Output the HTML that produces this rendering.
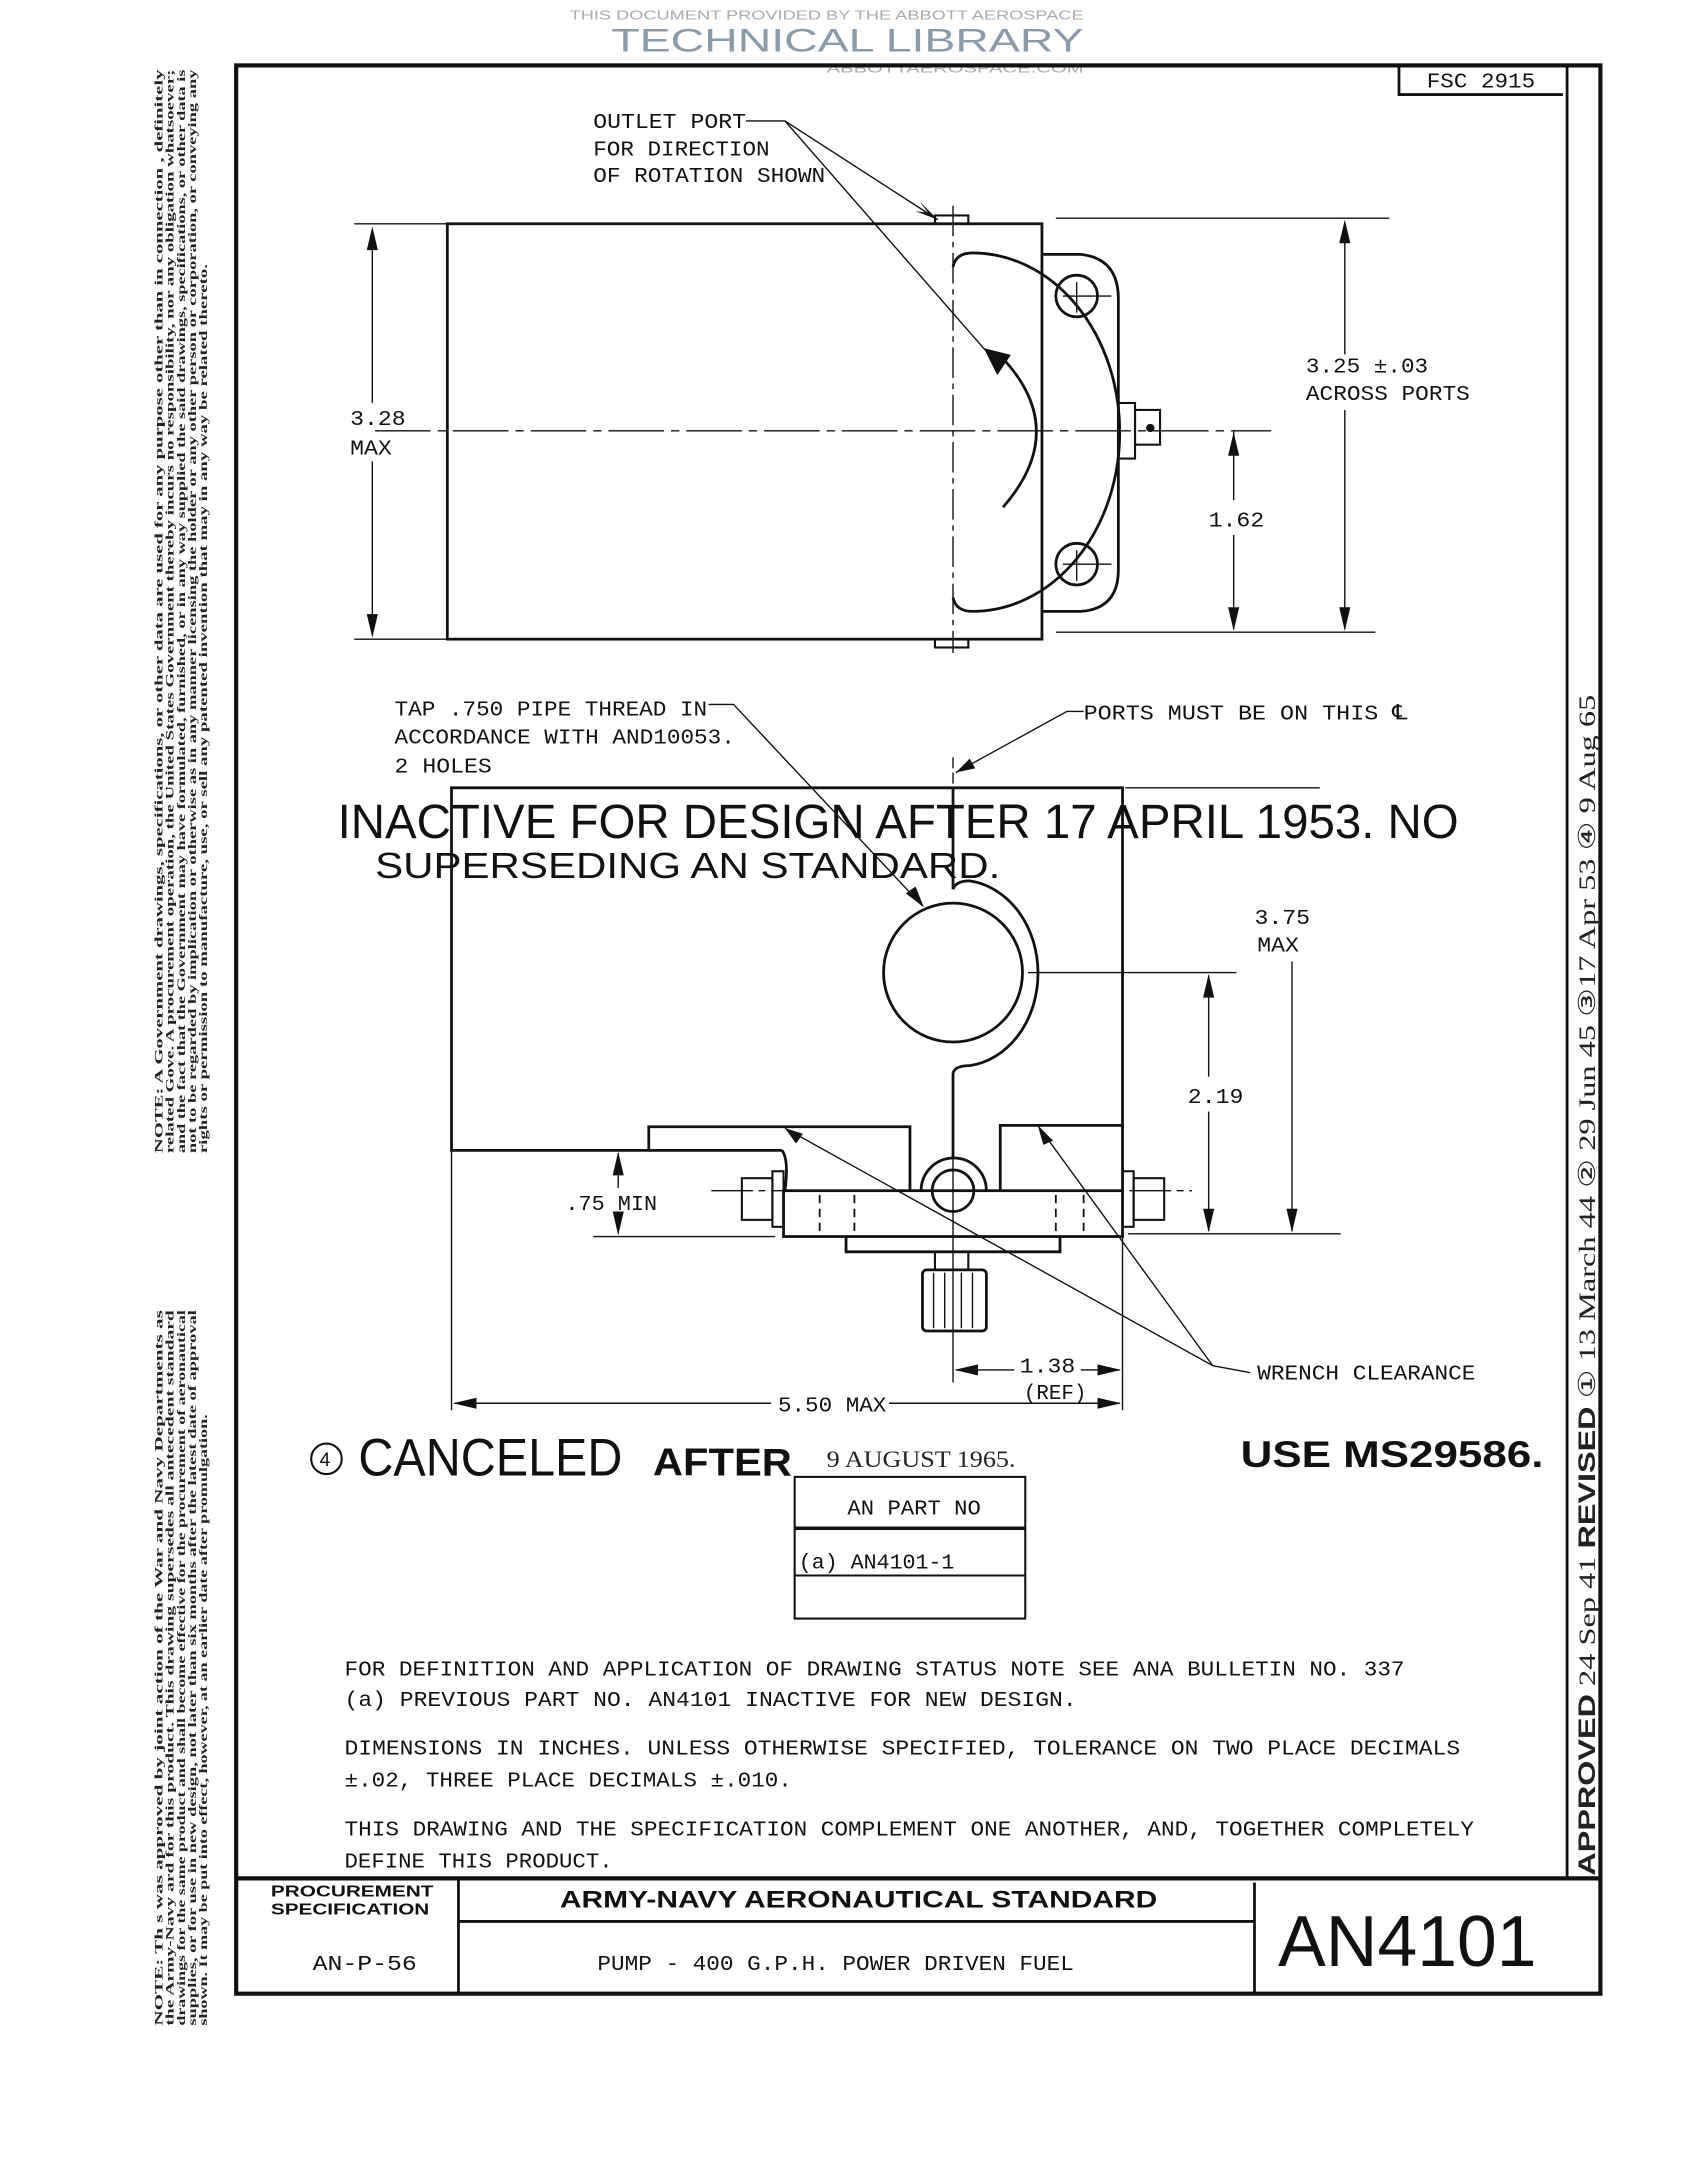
<!DOCTYPE html>
<html><head><meta charset="utf-8"><style>
html,body{margin:0;padding:0;background:#fff;}
svg{display:block;}
.m{font-family:"Liberation Mono",monospace;fill:#111;}
.s{font-family:"Liberation Sans",sans-serif;fill:#111;}
.r{font-family:"Liberation Serif",serif;fill:#222;}
</style></head><body>
<svg width="1681" height="2173" viewBox="0 0 1210 1564" xmlns="http://www.w3.org/2000/svg">
<rect width="1210" height="1564" fill="#fff"/>
<!-- watermark -->
<text x="410" y="14" class="s" font-size="9" style="fill:#aaa" textLength="370" lengthAdjust="spacingAndGlyphs">THIS DOCUMENT PROVIDED BY THE ABBOTT AEROSPACE</text>
<text x="440" y="37" class="s" font-size="23" style="fill:#8a9aa8" textLength="340" lengthAdjust="spacingAndGlyphs">TECHNICAL LIBRARY</text>
<text x="595" y="52" class="s" font-size="9" style="fill:#aaa" textLength="185" lengthAdjust="spacingAndGlyphs">ABBOTTAEROSPACE.COM</text>

<g fill="none" stroke="#111" stroke-width="2">
<!-- border -->
<rect x="170" y="47" width="982" height="1388" stroke-width="3"/>
<line x1="1128" y1="47" x2="1128" y2="1352"/>
<line x1="170" y1="1352" x2="1152" y2="1352" stroke-width="3"/>
<polyline points="1007,47 1007,68 1125,68"/>
<line x1="330" y1="1352" x2="330" y2="1435"/>
<line x1="903" y1="1355" x2="903" y2="1435"/>
<line x1="330" y1="1383" x2="903" y2="1383"/>

<!-- TOP VIEW -->
<rect x="322" y="161" width="428" height="299"/>
<rect x="673" y="155" width="24" height="6" stroke-width="1.5"/>
<rect x="673" y="460" width="24" height="6" stroke-width="1.5"/>
<path d="M686,192 Q688,182 700,182 A106,129 0 0 1 700,440 Q688,440 686,430"/>
<path d="M750,183 L778,183 Q805,186 805,215 L805,410 Q805,438 778,440 L750,440"/>
<circle cx="775" cy="213" r="15"/>
<circle cx="775" cy="406" r="15"/>
<g stroke-width="1"><line x1="765" y1="213" x2="800" y2="213"/><line x1="775" y1="203" x2="775" y2="225"/>
<line x1="765" y1="406" x2="800" y2="406"/><line x1="775" y1="396" x2="775" y2="418"/></g>
<rect x="805" y="290" width="12" height="40" stroke-width="1.5"/>
<rect x="817" y="295" width="18" height="25" stroke-width="1.5"/>
<circle cx="828" cy="308" r="2" fill="#111"/>
<path d="M722,365 Q770,310 722,258" stroke-width="2"/>
<polygon points="710,252 726,256 718,268" fill="#111"/>
<g stroke-width="1">
<line x1="686" y1="148" x2="686" y2="470" stroke-dasharray="22,4,4,4"/>
<line x1="270" y1="310" x2="915" y2="310" stroke-dasharray="40,5,6,5"/>
<line x1="255" y1="161" x2="322" y2="161"/><line x1="255" y1="460" x2="322" y2="460"/>
<line x1="268" y1="165" x2="268" y2="290"/><line x1="268" y1="332" x2="268" y2="457"/>
<line x1="760" y1="157" x2="1000" y2="157"/><line x1="760" y1="455" x2="990" y2="455"/>
<line x1="968" y1="160" x2="968" y2="255"/><line x1="968" y1="295" x2="968" y2="453"/>
<line x1="888" y1="310" x2="888" y2="360"/><line x1="888" y1="385" x2="888" y2="453"/>
<polyline points="537,87 565,87 675,158"/>
<line x1="565" y1="87" x2="718" y2="262"/>
</g>
<g fill="#111" stroke="none">
<polygon points="268,163 264,180 272,180"/><polygon points="268,459 264,442 272,442"/>
<polygon points="968,158 964,175 972,175"/><polygon points="968,454 964,437 972,437"/>
<polygon points="888,311 884,328 892,328"/><polygon points="888,454 884,437 892,437"/>
<polygon points="675,158 662,145 668,153 659,152"/>
</g>

<!-- BOTTOM VIEW -->
<polyline points="686,567 808,567 808,857"/>
<polyline points="686,567 325,567 325,828 467,828 467,811 655,811 655,857"/>
<line x1="467" y1="828" x2="563" y2="828"/>
<path d="M563,828 Q568,835 565,857"/>
<circle cx="686" cy="700" r="50"/>
<path d="M686,640 Q688,634 698,634 A56,67 0 0 1 698,767 Q688,767 686,772"/>
<line x1="686" y1="567" x2="686" y2="640"/>
<line x1="686" y1="772" x2="686" y2="834"/>
<polyline points="720,857 720,810 807,810"/>
<rect x="564" y="857" width="244" height="33"/>
<path d="M663,857 A23,23 0 0 1 710,857"/>
<circle cx="686" cy="857" r="15"/>
<polyline points="609,890 609,901 763,901 763,890"/>
<rect x="673" y="901" width="24" height="13" stroke-width="1.5"/>
<rect x="664" y="914" width="46" height="44" rx="3"/>
<g stroke-width="1">
<line x1="672" y1="916" x2="672" y2="956"/><line x1="680" y1="916" x2="680" y2="956"/><line x1="692" y1="916" x2="692" y2="956"/><line x1="700" y1="916" x2="700" y2="956"/>
</g>
<rect x="534" y="848" width="22" height="30" stroke-width="1.5"/>
<rect x="556" y="843" width="8" height="40" stroke-width="1.5"/>
<rect x="808" y="843" width="8" height="40" stroke-width="1.5"/>
<rect x="816" y="848" width="22" height="30" stroke-width="1.5"/>
<g stroke-width="1.3" stroke-dasharray="6,4">
<line x1="590" y1="860" x2="590" y2="890"/><line x1="615" y1="860" x2="615" y2="890"/>
<line x1="760" y1="860" x2="760" y2="890"/><line x1="780" y1="860" x2="780" y2="890"/>
</g>
<g stroke-width="1">
<line x1="512" y1="857" x2="858" y2="857" stroke-dasharray="30,4,5,4"/>
<line x1="686" y1="545" x2="686" y2="567" stroke-dasharray="8,3"/>
<line x1="686" y1="834" x2="686" y2="995"/>
<line x1="808" y1="890" x2="808" y2="1015"/>
<line x1="325" y1="828" x2="325" y2="1015"/>
<line x1="740" y1="700" x2="890" y2="700"/>
<line x1="810" y1="567" x2="950" y2="567"/>
<line x1="812" y1="888" x2="965" y2="888"/>
<line x1="427" y1="890" x2="558" y2="890"/>
<line x1="445" y1="830" x2="445" y2="855"/><line x1="445" y1="873" x2="445" y2="888"/>
<line x1="870" y1="702" x2="870" y2="775"/><line x1="870" y1="800" x2="870" y2="886"/>
<line x1="930" y1="692" x2="930" y2="886"/>
<line x1="327" y1="1010" x2="555" y2="1010"/><line x1="640" y1="1010" x2="806" y2="1010"/>
<line x1="688" y1="986" x2="730" y2="986"/><line x1="778" y1="986" x2="806" y2="986"/>
<polyline points="900,988 873,983 565,812"/>
<line x1="873" y1="983" x2="747" y2="810"/>
<polyline points="510,507 528,507 664,652"/>
<polyline points="780,512 768,512 688,556"/>
</g>
<g fill="#111" stroke="none">
<polygon points="445,829 441,846 449,846"/><polygon points="445,889 441,872 449,872"/>
<polygon points="870,701 866,718 874,718"/><polygon points="870,887 866,870 874,870"/>
<polygon points="930,887 926,870 934,870"/>
<polygon points="326,1010 343,1006 343,1014"/><polygon points="807,1010 790,1006 790,1014"/>
<polygon points="687,986 704,982 704,990"/><polygon points="807,986 790,982 790,990"/>
<polygon points="565,812 578,816 573,823"/><polygon points="747,810 758,821 751,824"/>
<polygon points="665,653 652,643 659,638"/><polygon points="688,556 698,546 702,553"/>
</g>

<rect x="572" y="1063" width="166" height="102" stroke-width="1.5"/>
<line x1="572" y1="1100" x2="738" y2="1100" stroke-width="2.5"/>
<line x1="572" y1="1134" x2="738" y2="1134" stroke-width="1.5"/>
<circle cx="235" cy="1050" r="11" stroke-width="1.5"/>
</g>

<text x="1027" y="63" class="m" font-size="15" textLength="78" lengthAdjust="spacingAndGlyphs">FSC 2915</text>
<g class="m" font-size="15">
<text x="427" y="92" textLength="110" lengthAdjust="spacingAndGlyphs">OUTLET PORT</text>
<text x="427" y="112" textLength="127" lengthAdjust="spacingAndGlyphs">FOR DIRECTION</text>
<text x="427" y="131" textLength="167" lengthAdjust="spacingAndGlyphs">OF ROTATION SHOWN</text>
<text x="252" y="306" textLength="40" lengthAdjust="spacingAndGlyphs">3.28</text>
<text x="252" y="327" textLength="30" lengthAdjust="spacingAndGlyphs">MAX</text>
<text x="940" y="268" textLength="88" lengthAdjust="spacingAndGlyphs">3.25 ±.03</text>
<text x="940" y="288" textLength="118" lengthAdjust="spacingAndGlyphs">ACROSS PORTS</text>
<text x="870" y="379" textLength="40" lengthAdjust="spacingAndGlyphs">1.62</text>
<text x="284" y="515" textLength="225" lengthAdjust="spacingAndGlyphs">TAP .750 PIPE THREAD IN</text>
<text x="284" y="535" textLength="245" lengthAdjust="spacingAndGlyphs">ACCORDANCE WITH AND10053.</text>
<text x="284" y="556" textLength="70" lengthAdjust="spacingAndGlyphs">2 HOLES</text>
<text x="780" y="518" textLength="233" lengthAdjust="spacingAndGlyphs">PORTS MUST BE ON THIS ℄</text>
<text x="903" y="665" textLength="40" lengthAdjust="spacingAndGlyphs">3.75</text>
<text x="905" y="685" textLength="30" lengthAdjust="spacingAndGlyphs">MAX</text>
<text x="855" y="794" textLength="40" lengthAdjust="spacingAndGlyphs">2.19</text>
<text x="407" y="871" textLength="66" lengthAdjust="spacingAndGlyphs">.75 MIN</text>
<text x="560" y="1016" textLength="78" lengthAdjust="spacingAndGlyphs">5.50 MAX</text>
<text x="734" y="988" textLength="40" lengthAdjust="spacingAndGlyphs">1.38</text>
<text x="737" y="1007" textLength="45" lengthAdjust="spacingAndGlyphs">(REF)</text>
<text x="905" y="993" textLength="157" lengthAdjust="spacingAndGlyphs">WRENCH CLEARANCE</text>
<text x="610" y="1090" textLength="96" lengthAdjust="spacingAndGlyphs">AN PART NO</text>
<text x="575" y="1129" textLength="112" lengthAdjust="spacingAndGlyphs">(a) AN4101-1</text>
<text x="248" y="1206" textLength="763" lengthAdjust="spacingAndGlyphs">FOR DEFINITION AND APPLICATION OF DRAWING STATUS NOTE SEE ANA BULLETIN NO. 337</text>
<text x="248" y="1228" textLength="527" lengthAdjust="spacingAndGlyphs">(a)  PREVIOUS PART NO. AN4101 INACTIVE FOR NEW DESIGN.</text>
<text x="248" y="1263" textLength="803" lengthAdjust="spacingAndGlyphs">DIMENSIONS IN INCHES.  UNLESS OTHERWISE SPECIFIED, TOLERANCE ON TWO PLACE DECIMALS</text>
<text x="248" y="1286" textLength="322" lengthAdjust="spacingAndGlyphs">±.02, THREE PLACE DECIMALS ±.010.</text>
<text x="248" y="1321" textLength="813" lengthAdjust="spacingAndGlyphs">THIS DRAWING AND THE SPECIFICATION COMPLEMENT ONE ANOTHER, AND, TOGETHER COMPLETELY</text>
<text x="248" y="1344" textLength="193" lengthAdjust="spacingAndGlyphs">DEFINE THIS PRODUCT.</text>
<text x="225" y="1418" textLength="75" lengthAdjust="spacingAndGlyphs">AN-P-56</text>
<text x="430" y="1418" textLength="343" lengthAdjust="spacingAndGlyphs">PUMP - 400 G.P.H. POWER DRIVEN FUEL</text>
</g>
<text x="243" y="603" class="s" font-size="35" textLength="807" lengthAdjust="spacingAndGlyphs">INACTIVE  FOR  DESIGN  AFTER 17 APRIL  1953.   NO</text>
<text x="270" y="632" class="s" font-size="26" textLength="450" lengthAdjust="spacingAndGlyphs">SUPERSEDING   AN   STANDARD.</text>
<text x="230" y="1055" class="s" font-size="14">4</text>
<text x="258" y="1062" class="s" font-size="38" textLength="190" lengthAdjust="spacingAndGlyphs">CANCELED</text>
<text x="470" y="1062" class="s" font-size="28" font-weight="bold" textLength="100" lengthAdjust="spacingAndGlyphs">AFTER</text>
<text x="595" y="1056" class="r" font-size="17" textLength="136" lengthAdjust="spacingAndGlyphs">9 AUGUST 1965.</text>
<text x="893" y="1056" class="s" font-size="27" font-weight="bold" textLength="218" lengthAdjust="spacingAndGlyphs">USE MS29586.</text>
<text x="195" y="1365" class="s" font-size="11" font-weight="bold" textLength="117" lengthAdjust="spacingAndGlyphs">PROCUREMENT</text>
<text x="195" y="1378" class="s" font-size="11" font-weight="bold" textLength="114" lengthAdjust="spacingAndGlyphs">SPECIFICATION</text>
<text x="403" y="1373" class="s" font-size="17" font-weight="bold" textLength="430" lengthAdjust="spacingAndGlyphs">ARMY-NAVY AERONAUTICAL STANDARD</text>
<text x="920" y="1415" class="s" font-size="52" textLength="186" lengthAdjust="spacingAndGlyphs">AN4101</text>

<text transform="translate(1148,1350) rotate(-90)" class="r" font-size="17" textLength="850" lengthAdjust="spacingAndGlyphs"><tspan font-family="Liberation Sans" font-weight="bold">APPROVED</tspan>   24 Sep 41   <tspan font-family="Liberation Sans" font-weight="bold">REVISED</tspan> ① 13 March 44 ② 29 Jun 45 ③17 Apr 53 ④ 9 Aug 65</text>

<g class="r" font-size="8.5" font-weight="bold">
<text transform="translate(117,830) rotate(-90)" textLength="780" lengthAdjust="spacingAndGlyphs">NOTE:        A Government drawings, specifications, or other data are used for any purpose other than in connection        , definitely</text>
<text transform="translate(125,830) rotate(-90)" textLength="780" lengthAdjust="spacingAndGlyphs">related Gove.     A procurement operation, the United States Government thereby incurs no responsibility, nor any obligation whatsoever;</text>
<text transform="translate(133,830) rotate(-90)" textLength="780" lengthAdjust="spacingAndGlyphs">and the fact that the Government may have formulated, furnished, or in any way supplied the said drawings, specifications, or other data is</text>
<text transform="translate(141,830) rotate(-90)" textLength="780" lengthAdjust="spacingAndGlyphs">not to be regarded by implication or otherwise as in any manner licensing the holder or any other person or corporation, or conveying any</text>
<text transform="translate(149,830) rotate(-90)" textLength="640" lengthAdjust="spacingAndGlyphs">rights or permission to manufacture, use, or sell any patented invention that may in any way be related thereto.</text>
<text transform="translate(117,1458) rotate(-90)" textLength="515" lengthAdjust="spacingAndGlyphs">NOTE: Th          s was approved by joint action of the War and Navy Departments as</text>
<text transform="translate(125,1458) rotate(-90)" textLength="515" lengthAdjust="spacingAndGlyphs">the Army-Navy      ard for this product. This drawing supersedes all antecedent standard</text>
<text transform="translate(133,1458) rotate(-90)" textLength="515" lengthAdjust="spacingAndGlyphs">drawings for the same product and shall become effective for the procurement of aeronautical</text>
<text transform="translate(141,1458) rotate(-90)" textLength="515" lengthAdjust="spacingAndGlyphs">supplies, or for use in new design, not later than six months after the latest date of approval</text>
<text transform="translate(149,1458) rotate(-90)" textLength="440" lengthAdjust="spacingAndGlyphs">shown. It may be put into effect, however, at an earlier date after promulgation.</text>
</g>
</svg>
</body></html>
